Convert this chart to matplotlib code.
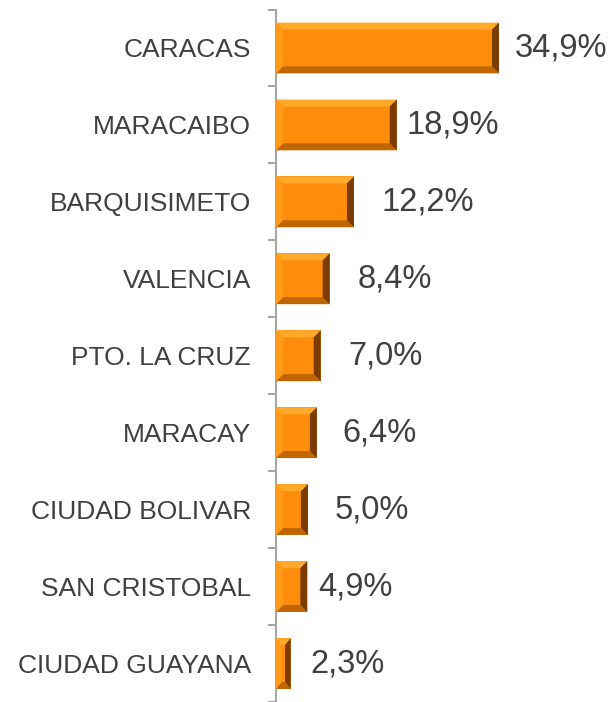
import matplotlib
matplotlib.use("Agg")
import matplotlib.pyplot as plt
from matplotlib.patches import Polygon
import numpy as np

# data
cities = ["CARACAS", "MARACAIBO", "BARQUISIMETO", "VALENCIA", "PTO. LA CRUZ",
          "MARACAY", "CIUDAD BOLIVAR", "SAN CRISTOBAL", "CIUDAD GUAYANA"]
shares = [34.9, 18.9, 12.2, 8.4, 7.0, 6.4, 5.0, 4.9, 2.3]
share_labels = ["34,9%", "18,9%", "12,2%", "8,4%", "7,0%", "6,4%", "5,0%", "4,9%", "2,3%"]
label_offsets = [11, 7, 20, 20, 20, 18, 19, 8, 14]  # points right of bar end

plt.rcParams['font.family'] = ['Liberation Sans', 'DejaVu Sans']

W, H, DPI = 611, 702, 100
fig = plt.figure(figsize=(W / DPI, H / DPI), dpi=DPI)
ax = fig.add_axes([276 / W, 0, 1 - 276 / W, 1 - 9.5 / H])

y = np.arange(len(cities))
bar_h = 0.66
base = "#FF8C0A"
ax.barh(y, shares, height=bar_h, color=base, edgecolor="none", zorder=2)

ax.set_xlim(0, (W - 276) / 6.39)
ax.set_ylim(8.48, -0.5)

# bevel effect on each bar
px_x = 1 / 6.39
px_y = 1 / 77.1
for yi, v in zip(y, shares):
    x0, x1 = 0, v
    y0, y1 = yi - bar_h / 2, yi + bar_h / 2
    bx = min(7 * px_x, v / 2.6)
    by = 7 * px_y
    faces = [
        ([(x0, y0), (x1, y0), (x1 - bx, y0 + by), (x0 + bx, y0 + by)], "#FFAA2A"),  # top
        ([(x0, y1), (x1, y1), (x1 - bx, y1 - by), (x0 + bx, y1 - by)], "#BF6600"),  # bottom
        ([(x0, y0), (x0 + bx, y0 + by), (x0 + bx, y1 - by), (x0, y1)], "#FF9A18"),  # left
        ([(x1, y0), (x1 - bx, y0 + by), (x1 - bx, y1 - by), (x1, y1)], "#7A3C00"),  # right
    ]
    for pts, col in faces:
        ax.add_patch(Polygon(pts, closed=True, facecolor=col, edgecolor="none", zorder=3))

for yi, v, lab, off in zip(y, shares, share_labels, label_offsets):
    ax.annotate(lab, (v, yi), xytext=(off, 0), textcoords="offset points",
                ha="left", va="center", fontsize=23.5, color="#404040")

# axes styling
for s in ["top", "right", "bottom"]:
    ax.spines[s].set_visible(False)
ax.spines["left"].set_color("#A6A6A6")
ax.spines["left"].set_linewidth(1.5)
ax.set_xticks([])
ax.set_yticks(y)
ax.set_yticklabels(cities, fontsize=19, color="#404040")
ax.set_yticks(np.arange(-0.5, len(cities), 1.0), minor=True)
ax.tick_params(axis="y", which="major", length=0, pad=18)
ax.tick_params(axis="y", which="minor", length=6, width=1.5, color="#A6A6A6")

fig.savefig("out.png", dpi=DPI)
